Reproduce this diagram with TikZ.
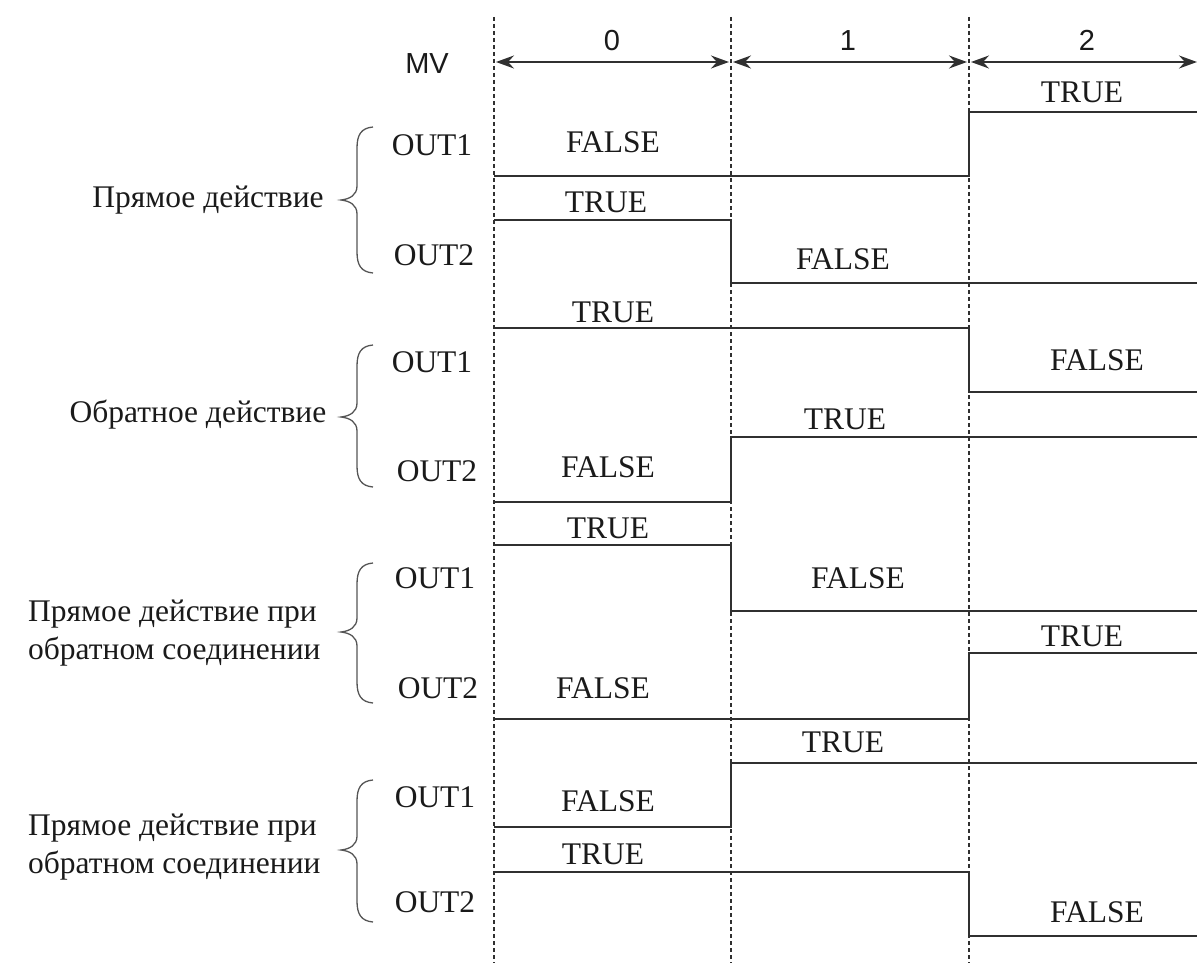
\documentclass[tikz,border=0pt]{standalone}
\usepackage{fontspec}
\setmainfont{Liberation Serif}
\newfontfamily\labelsans{Liberation Sans}
\usetikzlibrary{arrows.meta}

\definecolor{ink}{HTML}{1A1A1A}
\definecolor{wire}{HTML}{303030}
\definecolor{bracecol}{HTML}{555555}

\tikzset{
  txt/.style={anchor=base, inner sep=0pt, text=ink, font=\fontsize{31.5}{38}\selectfont},
  grouplabel/.style={txt, align=left},
  sanslabel/.style={anchor=base, inner sep=0pt, text=ink, font=\labelsans\fontsize{29}{34}\selectfont},
  gridline/.style={draw=wire, line width=1.3pt, dash pattern=on 4pt off 3pt},
  signal/.style={draw=wire, line width=1.9pt, line join=miter},
  span/.style={draw=wire, line width=1.9pt, {Stealth[length=18pt,width=13pt,inset=6pt]}-{Stealth[length=18pt,width=13pt,inset=6pt]}},
  grpbrace/.style={draw=bracecol, line width=1.3pt},
}

% curly brace: top end, tip and bottom end (y values)
\newcommand\groupbrace[3]{%
  \draw[grpbrace] (373,#1) .. controls (361,{#1+1}) and (357,{#1+8}) .. (357,{#1+21})
    -- (357,{#2-14}) .. controls (357,{#2-5}) and (350,{#2-1}) .. (341,#2)
    .. controls (350,{#2+1}) and (357,{#2+5}) .. (357,{#2+14})
    -- (357,{#3-21}) .. controls (357,{#3-8}) and (361,{#3-1}) .. (373,#3);}

\begin{document}
\begin{tikzpicture}[x=1pt, y=-1pt]
\useasboundingbox (0,0) rectangle (1197,963);

% time boundaries
\coordinate (t0top) at (494,17);  \coordinate (t0bot) at (494,963);
\coordinate (t1top) at (731,17);  \coordinate (t1bot) at (731,963);
\coordinate (t2top) at (969,17);  \coordinate (t2bot) at (969,963);
\coordinate (tend) at (1197,62);
\draw[gridline] (t0top) -- (t0bot);
\draw[gridline] (t1top) -- (t1bot);
\draw[gridline] (t2top) -- (t2bot);

% MV intervals
\coordinate (a0l) at (496,62); \coordinate (a0r) at (729,62);
\coordinate (a1l) at (733,62); \coordinate (a1r) at (967,62);
\coordinate (a2l) at (971,62);
\draw[span] (a0l) -- (a0r);
\draw[span] (a1l) -- (a1r);
\draw[span] (a2l) -- (tend);
\node[sanslabel] (mv) at (427,74) {MV};
\node[sanslabel] (n0) at (612,51) {0};
\node[sanslabel] (n1) at (848,51) {1};
\node[sanslabel] (n2) at (1087,51) {2};

% ---- group 1: direct action
\node[txt] (g1) at (208,207) {Прямое действие};
\groupbrace{127}{200}{273}
\node[txt] (g1o1) at (432,156) {OUT1};
\node[txt] (g1o2) at (434,265) {OUT2};
\draw[signal] (494,176) -- (969,176) -- (969,112) -- (1197,112);
\draw[signal] (494,220) -- (731,220) -- (731,283) -- (1197,283);
\node[txt] (g1a) at (613,153) {FALSE};
\node[txt] (g1b) at (1082,103) {TRUE};
\node[txt] (g1c) at (606,212) {TRUE};
\node[txt] (g1d) at (843,269) {FALSE};

% ---- group 2: reverse action
\node[txt] (g2) at (198,422) {Обратное действие};
\groupbrace{345}{417}{487}
\node[txt] (g2o1) at (432,372) {OUT1};
\node[txt] (g2o2) at (437,481) {OUT2};
\draw[signal] (494,328) -- (969,328) -- (969,392) -- (1197,392);
\draw[signal] (494,502) -- (731,502) -- (731,437) -- (1197,437);
\node[txt] (g2a) at (613,322) {TRUE};
\node[txt] (g2b) at (1097,370) {FALSE};
\node[txt] (g2c) at (845,429) {TRUE};
\node[txt] (g2d) at (608,477) {FALSE};

% ---- group 3 (the base anchor of a two-line label is the last baseline)
\node[grouplabel, anchor=base west] (g3) at (28,659) {Прямое действие при\\обратном соединении};
\groupbrace{563}{632}{703}
\node[txt] (g3o1) at (435,588) {OUT1};
\node[txt] (g3o2) at (438,698) {OUT2};
\draw[signal] (494,545) -- (731,545) -- (731,611) -- (1197,611);
\draw[signal] (494,719) -- (969,719) -- (969,653) -- (1197,653);
\node[txt] (g3a) at (608,538) {TRUE};
\node[txt] (g3b) at (858,588) {FALSE};
\node[txt] (g3c) at (1082,646) {TRUE};
\node[txt] (g3d) at (603,698) {FALSE};

% ---- group 4
\node[grouplabel, anchor=base west] (g4) at (28,873) {Прямое действие при\\обратном соединении};
\groupbrace{780}{850}{922}
\node[txt] (g4o1) at (435,807) {OUT1};
\node[txt] (g4o2) at (435,912) {OUT2};
\draw[signal] (494,827) -- (731,827) -- (731,763) -- (1197,763);
\draw[signal] (494,872) -- (969,872) -- (969,936) -- (1197,936);
\node[txt] (g4a) at (608,811) {FALSE};
\node[txt] (g4b) at (843,752) {TRUE};
\node[txt] (g4c) at (603,864) {TRUE};
\node[txt] (g4d) at (1097,922) {FALSE};
\end{tikzpicture}
\end{document}
